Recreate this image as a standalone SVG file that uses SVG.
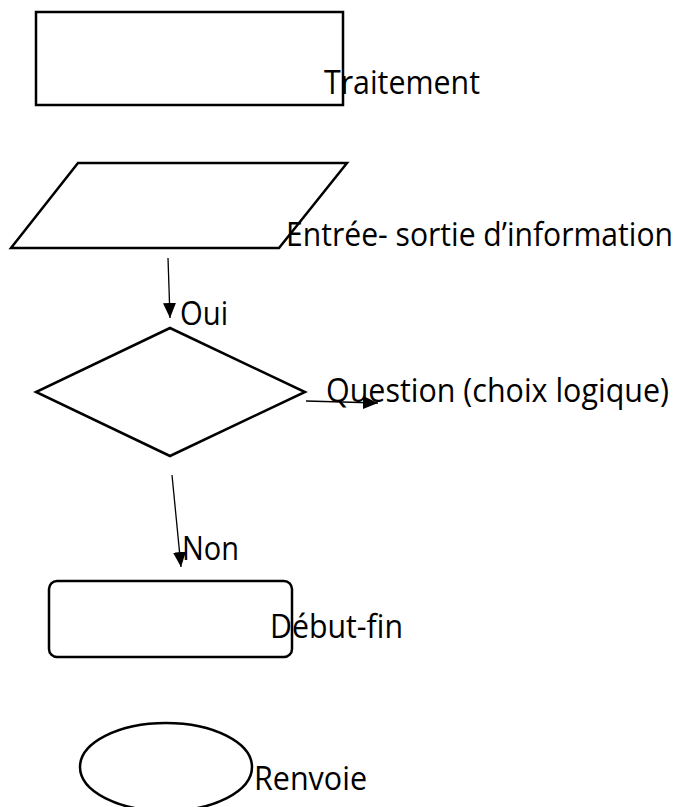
<svg xmlns="http://www.w3.org/2000/svg" width="684" height="807" viewBox="0 0 684 807">
  <style>
    .shape { fill: #ffffff; stroke: #000000; stroke-width: 2.5; }
    .label { font-family: "Open Sans", "Noto Sans", "Liberation Sans", sans-serif; font-size: 32px; fill: #000000; }
    .conn { stroke: #000000; stroke-width: 1.3; fill: none; marker-end: url(#arrow); }
  </style>
  <defs>
    <marker id="arrow" markerUnits="userSpaceOnUse" markerWidth="16" markerHeight="14" viewBox="0 0 16 14" refX="15" refY="6.5" orient="auto">
      <path d="M0,0 L15,6.5 L0,13 Z" fill="#000000"/>
    </marker>
  </defs>
  <rect width="684" height="807" fill="#ffffff"/>

  <g id="traitement">
    <rect class="shape" x="36" y="12" width="307" height="93"/>
    <text class="label" x="324" y="94" textLength="156" lengthAdjust="spacingAndGlyphs">Traitement</text>
  </g>

  <g id="entree-sortie">
    <polygon class="shape" points="78,163 347,163 279,248 11,248"/>
    <text class="label" x="286" y="246" textLength="387" lengthAdjust="spacingAndGlyphs">Entrée- sortie d’information</text>
  </g>

  <g id="question">
    <polygon class="shape" points="170,328 305,392 170,456 36,392"/>
    <text class="label" x="326" y="402" textLength="343" lengthAdjust="spacingAndGlyphs">Question (choix logique)</text>
  </g>

  <g id="debut-fin">
    <rect class="shape" x="49" y="581" width="243" height="76" rx="8" ry="8"/>
    <text class="label" x="270" y="638" textLength="133" lengthAdjust="spacingAndGlyphs">Début-fin</text>
  </g>

  <g id="renvoie">
    <ellipse class="shape" cx="166" cy="767" rx="86" ry="44"/>
    <text class="label" x="254" y="790" textLength="113" lengthAdjust="spacingAndGlyphs">Renvoie</text>
  </g>

  <g id="connectors">
    <line class="conn" x1="168" y1="258" x2="170" y2="318"/>
    <text class="label" x="180" y="325" textLength="48" lengthAdjust="spacingAndGlyphs">Oui</text>
    <line class="conn" x1="306" y1="401" x2="378" y2="403"/>
    <line class="conn" x1="172" y1="475" x2="181" y2="567"/>
    <text class="label" x="182" y="560" textLength="57" lengthAdjust="spacingAndGlyphs">Non</text>
  </g>
</svg>
